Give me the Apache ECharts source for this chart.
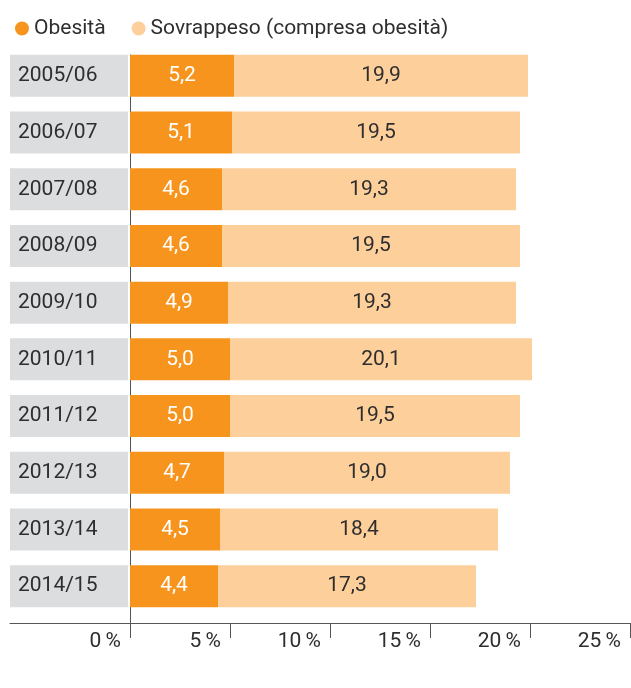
<!DOCTYPE html>
<html>
<head>
<meta charset="utf-8">
<title>Obesità e sovrappeso</title>
<script src="https://cdn.jsdelivr.net/npm/echarts@6/dist/echarts.min.js"></script>
<style>
	html, body {margin: 0; padding: 0; background: #fff;}
	#chart {width: 631px; height: 688px;}
</style>
</head>
<body>
<div id="chart"></div>
<script>
// dati
let anni = ['2005/06', '2006/07', '2007/08', '2008/09', '2009/10', '2010/11', '2011/12', '2012/13', '2013/14', '2014/15'];
let obesita = [5.2, 5.1, 4.6, 4.6, 4.9, 5.0, 5.0, 4.7, 4.5, 4.4];
let sovrappeso = [19.9, 19.5, 19.3, 19.5, 19.3, 20.1, 19.5, 19.0, 18.4, 17.3];
let tickValori = [0, 5, 10, 15, 20, 25];

let nomeObesita = 'Obesità';
let nomeSovrappeso = 'Sovrappeso (compresa obesità)';

let font = 'Roboto';
let coloreTesto = '#2e2e2e';
let coloreAsse = '#555555';

// la parte chiara parte dove finisce l'obesità
let resto = sovrappeso.map((v, i) => +(v - obesita[i]).toFixed(1));

let fmt = v => v.toFixed(1).replace('.', ',');

let chart = echarts.init(document.getElementById('chart'));

chart.setOption({
	animation: false,
	textStyle: {fontFamily: font},
	legend: {
		left: 10,
		top: 13,
		icon: 'circle',
		itemWidth: 14,
		itemHeight: 14,
		itemGap: 26,
		textStyle: {fontFamily: font, fontSize: 21, color: coloreTesto},
		data: [nomeObesita, nomeSovrappeso]
	},
	grid: [
		// barre
		{left: 130, right: 1, top: 47.5, bottom: 73.5},
		// assi
		{left: 130, right: 1, top: 55, bottom: 65},
		// prolungamento dell'asse x a sinistra
		{left: 10, width: 120, top: 55, bottom: 65}
	],
	xAxis: [
		{gridIndex: 0, type: 'value', min: 0, max: 25, show: false},
		{
			gridIndex: 1, type: 'value', min: tickValori[0], max: tickValori[tickValori.length - 1], interval: 5,
			axisLine: {show: true, lineStyle: {color: coloreAsse, width: 1}},
			axisTick: {show: true, length: 15, lineStyle: {color: coloreAsse, width: 1}},
			splitLine: {show: false},
			axisLabel: {
				align: 'right',
				margin: 8,
				padding: [0, 9, 0, 0],
				fontFamily: font,
				fontSize: 21,
				color: coloreTesto,
				formatter: v => v + '\u2009%'
			}
		},
		{
			gridIndex: 2, type: 'value', min: 0, max: 1,
			axisLine: {show: true, lineStyle: {color: coloreAsse, width: 1}},
			axisTick: {show: false}, axisLabel: {show: false}, splitLine: {show: false}
		}
	],
	yAxis: [
		{
			gridIndex: 0, type: 'category', inverse: true, data: anni,
			axisLine: {show: false},
			axisTick: {show: false},
			axisLabel: {
				align: 'left',
				margin: 120,
				width: 110,
				height: 42,
				lineHeight: 42,
				padding: [0, 0, 0, 8],
				backgroundColor: '#dcdddf',
				fontFamily: font,
				fontSize: 21,
				color: coloreTesto
			}
		},
		{
			gridIndex: 1, type: 'category', inverse: true, data: anni,
			axisLine: {show: true, lineStyle: {color: coloreAsse, width: 1}},
			axisTick: {show: false}, axisLabel: {show: false}
		},
		{gridIndex: 2, type: 'category', data: anni, show: false}
	],
	series: [
		{
			name: nomeObesita,
			type: 'bar',
			stack: 'tot',
			xAxisIndex: 0,
			yAxisIndex: 0,
			barWidth: 42,
			itemStyle: {color: '#f7941d'},
			label: {
				show: true,
				position: 'inside',
				color: '#ffffff',
				fontFamily: font,
				fontSize: 21,
				formatter: p => fmt(obesita[p.dataIndex])
			},
			data: obesita
		},
		{
			name: nomeSovrappeso,
			type: 'bar',
			stack: 'tot',
			xAxisIndex: 0,
			yAxisIndex: 0,
			barWidth: 42,
			itemStyle: {color: '#fdcf9b'},
			label: {
				show: true,
				position: 'inside',
				color: coloreTesto,
				fontFamily: font,
				fontSize: 21,
				formatter: p => fmt(sovrappeso[p.dataIndex])
			},
			data: resto
		}
	]
});
</script>
</body>
</html>
